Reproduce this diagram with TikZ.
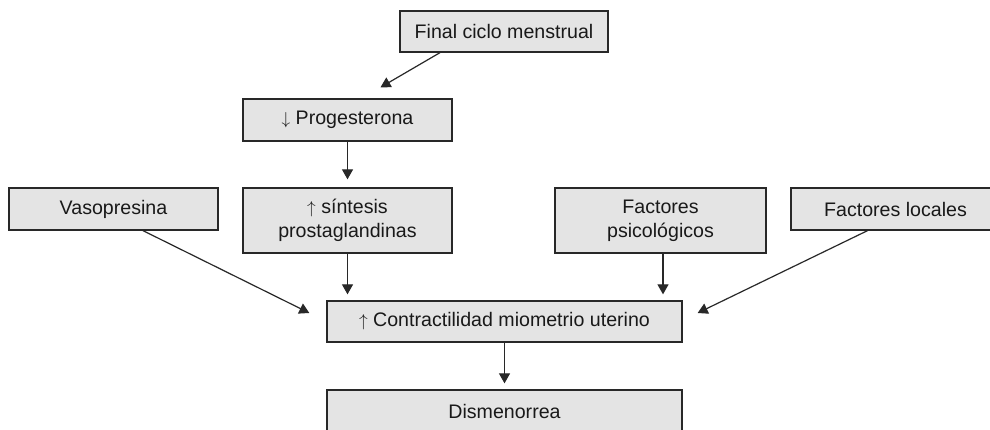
\documentclass[tikz,border=0pt]{standalone}
\usepackage{fontspec}
\setmainfont{Liberation Sans}
\usetikzlibrary{arrows.meta}
\definecolor{boxfill}{RGB}{228,228,228}
\definecolor{boxline}{RGB}{40,40,40}
\newcommand{\myup}{{\fontsize{16}{16}\selectfont$\uparrow$}}
\newcommand{\mydown}{{\fontsize{16}{16}\selectfont$\downarrow$}}
\tikzset{
  box/.style={draw=boxline, line width=1.3pt, fill=boxfill, inner sep=0pt,
    align=center, font=\fontsize{19.6}{24}\selectfont, text=black!90},
  arr/.style={draw=boxline, line width=1.2pt, -{Triangle[length=10pt,width=11pt]}}
}
\begin{document}
\begin{tikzpicture}[x=1pt,y=-1pt]
\useasboundingbox (0,0) rectangle (990,430);
\clip (0,0) rectangle (990,430);
\fill[white] (0,0) rectangle (990,430);
\node[box, minimum width=208pt, minimum height=41pt] (fin) at (504,31.5) {Final ciclo menstrual};
\node[box, minimum width=209pt, minimum height=42pt] (prog) at (347.5,120) {\mydown\ Progesterona};
\node[box, minimum width=209pt, minimum height=42pt] (vaso) at (113.5,209) {Vasopresina};
\node[box, minimum width=209pt, minimum height=65pt] (sint) at (347.5,220.5) {\myup\ síntesis\\prostaglandinas};
\node[box, minimum width=211pt, minimum height=65pt] (psic) at (660.5,220.5) {Factores\\psicológicos};
\node[box, minimum width=209pt, minimum height=42pt] (loc) at (895.5,209) {Factores locales};
\node[box, minimum width=355pt, minimum height=41pt] (contr) at (504.5,321.5) {\myup\ Contractilidad miometrio uterino};
\node[box, minimum width=355pt, minimum height=42pt] (dism) at (504.5,411) {Dismenorrea};

\draw[arr] ([xshift=-64pt]fin.south) -- ([xshift=33pt,yshift=11pt]prog.north);
\draw[arr] (prog.south) -- ([yshift=8pt]sint.north);
\draw[arr] (sint.south) -- ([yshift=6pt]contr.north -| sint.south);
\draw[arr] ([xshift=2.5pt]psic.south) -- ([xshift=2.5pt,yshift=6pt]contr.north -| psic.south);
\draw[arr] ([xshift=29.5pt]vaso.south) -- ([xshift=-17pt,yshift=8.5pt]contr.west);
\draw[arr] ([xshift=-28pt]loc.south) -- ([xshift=15pt,yshift=8.5pt]contr.east);
\draw[arr] (contr.south) -- ([yshift=6pt]dism.north);
\end{tikzpicture}
\end{document}
